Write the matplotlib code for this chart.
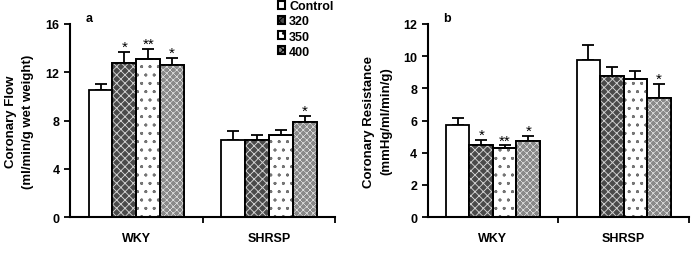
import numpy as np
import matplotlib
matplotlib.use('Agg')
import matplotlib.pyplot as plt
from matplotlib.patches import Patch

plt.rcParams['font.family'] = ['Liberation Sans', 'DejaVu Sans']
plt.rcParams['font.weight'] = 'bold'
plt.rcParams['hatch.linewidth'] = 0.8

groups = ['WKY', 'SHRSP']
series = ['Control', '320', '350', '400']

# panel a: coronary flow
flow_mean = [[10.5, 6.4], [12.8, 6.4], [13.1, 6.8], [12.6, 7.85]]
flow_err = [[0.5, 0.7], [0.9, 0.4], [0.8, 0.4], [0.6, 0.55]]
flow_stars = [['', ''], ['*', ''], ['**', ''], ['*', '*']]

# panel b: coronary resistance
res_mean = [[5.75, 9.75], [4.45, 8.75], [4.3, 8.6], [4.7, 7.4]]
res_err = [[0.4, 0.95], [0.35, 0.6], [0.15, 0.45], [0.35, 0.85]]
res_stars = [['', ''], ['*', ''], ['**', ''], ['*', '*']]

styles = [
    dict(facecolor='white', hatch=None, hatchcolor='black'),
    dict(facecolor='#4a4a4a', hatch='xxxx', hatchcolor='#cfcfcf'),
    dict(facecolor='white', hatch='..', hatchcolor='#777777'),
    dict(facecolor='#8a8a8a', hatch='xxxxx', hatchcolor='#dddddd'),
]

fig = plt.figure(figsize=(7, 2.55), dpi=100)
ax_a = fig.add_axes([0.1, 0.145, 0.379, 0.757])
ax_b = fig.add_axes([0.611, 0.145, 0.373, 0.757])

width = 0.18
centers = np.array([0.5, 1.5])


def draw_panel(ax, means, errs, stars, ymax, yticks, ylabel, tag):
    for i in range(4):
        x = centers + (i - 1.5) * width
        st = styles[i]
        ax.bar(x, means[i], width, facecolor=st['facecolor'], edgecolor='black',
               linewidth=1.3, hatch=st['hatch'], zorder=2)
        if st['hatch']:
            # redraw hatch in its own colour, keep black outline on top
            ax.bar(x, means[i], width, facecolor='none', edgecolor=st['hatchcolor'],
                   linewidth=0, hatch=st['hatch'], zorder=2.5)
            ax.bar(x, means[i], width, facecolor='none', edgecolor='black',
                   linewidth=1.3, zorder=3)
        ax.errorbar(x, means[i], yerr=[np.zeros(2), errs[i]], fmt='none',
                    ecolor='black', elinewidth=1.3, capsize=4, capthick=1.3, zorder=1)
        for xi, m, e, s in zip(x, means[i], errs[i], stars[i]):
            if s:
                ax.text(xi, m + e - ymax * 0.01, s, ha='center', va='bottom',
                        fontsize=11, fontweight='normal')
    ax.set_xlim(0, 2)
    ax.set_ylim(0, ymax)
    ax.set_yticks(yticks)
    ax.set_xticks(centers)
    ax.set_xticklabels(groups, fontsize=9, fontweight='bold')
    ax.tick_params(axis='x', length=0, pad=11)
    ax.set_xticks([1, 2], minor=True)
    ax.tick_params(axis='x', which='minor', length=4, width=1.3, direction='out')
    ax.tick_params(axis='y', length=4, width=1.3, labelsize=9)
    for lbl in ax.get_yticklabels():
        lbl.set_fontweight('bold')
    for sp in ['top', 'right']:
        ax.spines[sp].set_visible(False)
    for sp in ['left', 'bottom']:
        ax.spines[sp].set_linewidth(1.5)
    ax.set_ylabel(ylabel, fontsize=9.5, fontweight='bold', labelpad=8,
                  linespacing=1.6)
    ax.text(0.06, 1.0, tag, transform=ax.transAxes, fontsize=9,
            fontweight='bold', ha='left', va='bottom')


draw_panel(ax_a, flow_mean, flow_err, flow_stars, 16, [0, 4, 8, 12, 16],
           'Coronary Flow\n(ml/min/g wet weight)', 'a')
draw_panel(ax_b, res_mean, res_err, res_stars, 12, [0, 2, 4, 6, 8, 10, 12],
           'Coronary Resistance\n(mmHg/ml/min/g)', 'b')

# legend for panel a, top right of the left panel
handles = []
for i, name in enumerate(series):
    st = styles[i]
    handles.append(Patch(facecolor=st['facecolor'], edgecolor='black',
                         hatch=st['hatch'], linewidth=1.5, label=name))
leg = fig.legend(handles=handles, loc='upper left', bbox_to_anchor=(0.397, 0.995),
                 frameon=False, fontsize=9, handlelength=0.6, handleheight=0.6,
                 handletextpad=0.3, labelspacing=0.25, borderpad=0, borderaxespad=0)
for t in leg.get_texts():
    t.set_fontweight('bold')

fig.savefig('out.png', dpi=100)
